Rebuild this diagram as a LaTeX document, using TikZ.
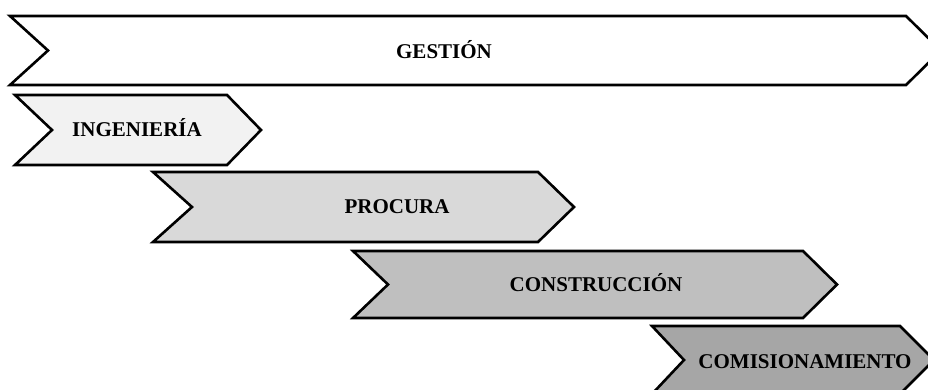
\documentclass[tikz,border=0pt]{standalone}
\usepackage{fontspec}
\setmainfont{Liberation Serif}
\begin{document}
\begin{tikzpicture}[x=1pt,y=-1pt,
  phase/.style={draw=black, line width=2.6pt, line join=miter},
  label/.style={font=\bfseries\fontsize{21}{25}\selectfont, inner sep=0pt}]
\definecolor{ingfill}{HTML}{F2F2F2}
\definecolor{profill}{HTML}{D9D9D9}
\definecolor{confill}{HTML}{BFBFBF}
\definecolor{comfill}{HTML}{A6A6A6}
\useasboundingbox (0,0) rectangle (928,390);
\clip (0,0) rectangle (928,390);
% chevron: left, top, bottom, notch x, straight right end, tip x, fill
\newcommand\chevronshape[7]{%
  \draw[phase, fill=#7] (#1,#2) -- (#5,#2) -- (#6,{(#2+#3)/2}) -- (#5,#3)
    -- (#1,#3) -- (#4,{(#2+#3)/2}) -- cycle;}
\chevronshape{10}{16}{85}{48}{906}{941}{white}
\chevronshape{15}{95}{165}{52}{227}{261}{ingfill}
\chevronshape{153}{172}{242}{192}{538}{574}{profill}
\chevronshape{353}{251}{318}{388}{803}{837}{confill}
\chevronshape{652}{326}{394}{684}{900}{934}{comfill}
\node[label] (gestion) at (444,50) {GESTIÓN};
\node[label] (ingenieria) at (137,128) {INGENIERÍA};
\node[label] (procura) at (397,207) {PROCURA};
\node[label] (construccion) at (596,283) {CONSTRUCCIÓN};
\node[label] (comisionamiento) at (805,362) {COMISIONAMIENTO};
\end{tikzpicture}
\end{document}
